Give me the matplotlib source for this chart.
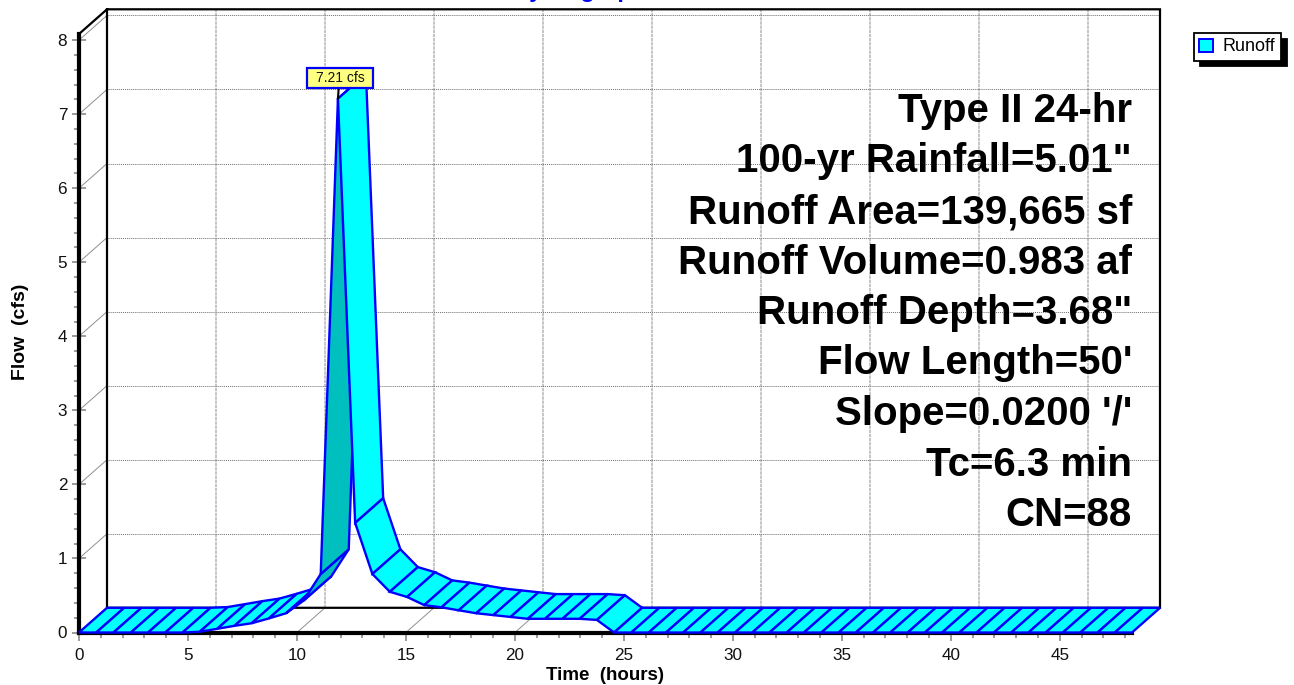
import matplotlib
matplotlib.use('Agg')
import matplotlib.pyplot as plt
from matplotlib.patches import Patch, Polygon, Rectangle
from matplotlib.ticker import MultipleLocator

plt.rcParams['font.family'] = ['Liberation Sans', 'DejaVu Sans']

#-------------
#  Data
#-------------
time_hours = [0.00, 0.79, 1.58, 2.38, 3.17, 3.96, 4.75, 5.54, 6.34, 7.13,
              7.92, 8.71, 9.50, 10.30, 11.09, 11.88, 12.67, 13.46, 14.26, 15.05,
              15.84, 16.63, 17.42, 18.22, 19.01, 19.80, 20.59, 21.38, 22.18, 22.97,
              23.76, 24.55, 25.34, 26.14, 26.93, 27.72, 28.51, 29.30, 30.10, 30.89,
              31.68, 32.47, 33.26, 34.06, 34.85, 35.64, 36.43, 37.22, 38.02, 38.81,
              39.60, 40.39, 41.18, 41.98, 42.77, 43.56, 44.35, 45.14, 45.94, 46.73,
              47.52, 48.31]
flow_cfs = [0.00, 0.00, 0.00, 0.00, 0.00, 0.00, 0.00, 0.01, 0.05, 0.09,
            0.125, 0.19, 0.26, 0.43, 0.79, 7.21, 1.48, 0.79, 0.55, 0.48,
            0.37, 0.34, 0.30, 0.26, 0.235, 0.21, 0.185, 0.185, 0.185, 0.185,
            0.17, 0.00, 0.00, 0.00, 0.00, 0.00, 0.00, 0.00, 0.00, 0.00,
            0.00, 0.00, 0.00, 0.00, 0.00, 0.00, 0.00, 0.00, 0.00, 0.00,
            0.00, 0.00, 0.00, 0.00, 0.00, 0.00, 0.00, 0.00, 0.00, 0.00,
            0.00, 0.00]
x_ticks = [0, 5, 10, 15, 20, 25, 30, 35, 40, 45]
y_ticks = [0, 1, 2, 3, 4, 5, 6, 7, 8]
notes = ['Type II 24-hr', '100-yr Rainfall=5.01"', 'Runoff Area=139,665 sf',
         'Runoff Volume=0.983 af', 'Runoff Depth=3.68"', "Flow Length=50'",
         "Slope=0.0200 '/'", 'Tc=6.3 min', 'CN=88']
peak_label = '7.21 cfs'

#-------------
#  Layout
#-------------
W, H = 1294, 685
X_MAX, Y_MAX = 48.31, 8.083
LEFT, RIGHT, TOP, BOTTOM = 79, 1132, 34, 632.5

# depth of the fake 3D box, in data units
DX = 28 * X_MAX / (RIGHT - LEFT)
DY = 24.7 * Y_MAX / (BOTTOM - TOP)

BLUE = '#0000FF'
CYAN = '#00FFFF'
DARK = '#00BFBF'

fig = plt.figure(figsize=(W / 100, H / 100), dpi=100)
ax = fig.add_axes([LEFT / W, 1 - BOTTOM / H, (RIGHT - LEFT) / W, (BOTTOM - TOP) / H])
ax.set_xlim(0, X_MAX)
ax.set_ylim(0, Y_MAX)
ax.patch.set_visible(False)

for side in ['top', 'right']:
    ax.spines[side].set_visible(False)
for side in ['left', 'bottom']:
    ax.spines[side].set_linewidth(3)
    ax.spines[side].set_zorder(2)

ax.set_xticks(x_ticks)
ax.set_yticks(y_ticks)
ax.xaxis.set_minor_locator(MultipleLocator(1))
ax.yaxis.set_minor_locator(MultipleLocator(0.2))
ax.tick_params(axis='both', which='major', labelsize=12.3, color='#808080', width=1.1,
               labelcolor='#111111')
ax.tick_params(axis='x', which='major', direction='out', length=5.5, pad=6)
ax.tick_params(axis='y', which='major', direction='inout', length=10, pad=3.5)
ax.tick_params(axis='both', which='minor', direction='out', length=3.5, color='#808080', width=1.1)

#----------
#  Box
#----------
grid_kw = dict(clip_on=False, zorder=1)
for x in x_ticks[1:]:
    ax.plot([x + DX, x + DX], [DY, Y_MAX + DY], color='#bbbbbb', lw=1.2,
            ls=(0, (2, 0.5)), **grid_kw)
    ax.plot([x, x + DX], [0, DY], color='#909090', lw=0.7, **grid_kw)
for y in y_ticks[1:]:
    ax.plot([DX, X_MAX + DX], [y + DY, y + DY], color='#707070', lw=0.7,
            ls=(0, (1, 1)), **grid_kw)
    ax.plot([0, DX], [y, y + DY], color='#909090', lw=0.7, **grid_kw)

# back wall frame
ax.plot([0, DX, X_MAX + DX, X_MAX + DX, DX, DX],
        [Y_MAX, Y_MAX + DY, Y_MAX + DY, DY, DY, Y_MAX + DY],
        color='black', lw=1.6, clip_on=False, zorder=1.5, solid_joinstyle='miter')

#----------
#  Ribbon
#----------
for i in range(len(time_hours) - 1):
    t0, t1 = time_hours[i], time_hours[i + 1]
    q0, q1 = flow_cfs[i], flow_cfs[i + 1]
    # rising faces steeper than the depth direction turn away from the light
    steep = (q1 - q0) / (t1 - t0) > DY / DX
    quad = [(t0, q0), (t1, q1), (t1 + DX, q1 + DY), (t0 + DX, q0 + DY)]
    ax.add_patch(Polygon(quad, closed=True, facecolor=DARK if steep else CYAN,
                         edgecolor=BLUE, lw=1.7, clip_on=False, zorder=3,
                         joinstyle='miter'))

# leader from the peak up to the label box
ax.annotate('', xy=(time_hours[15], flow_cfs[15]), xytext=(339, H - 84),
            textcoords='figure pixels', zorder=4,
            arrowprops=dict(arrowstyle='-', color='black', lw=1.5, shrinkA=0, shrinkB=0))
fig.add_artist(Rectangle((307 / W, 1 - 88 / H), 66 / W, 20 / H, transform=fig.transFigure,
                         facecolor='#FFFF80', edgecolor=BLUE, lw=1.6, zorder=5))
fig.text(340 / W, 1 - 78.5 / H, peak_label, ha='center', va='center', fontsize=10,
         color='#111111', zorder=6)

#----------
#  Text
#----------
for i, note in enumerate(notes):
    fig.text(1132 / W, 1 - (122 + i * 50.5) / H, note, ha='right', va='baseline',
             fontsize=29, fontweight='bold', color='black', zorder=7)

fig.text(580 / W, 1 + 3 / H, 'Hydrograph', ha='center', va='baseline', fontsize=17,
         fontweight='bold', color=BLUE)
fig.text(605 / W, 1 - 675 / H, 'Time  (hours)', ha='center', va='center', fontsize=13.5,
         fontweight='bold', color='black')
fig.text(21 / W, 1 - 332 / H, 'Flow  (cfs)', ha='center', va='center', rotation=90,
         fontsize=14, fontweight='bold', color='black')

handle = Patch(facecolor=CYAN, edgecolor=BLUE, lw=1.4, label='Runoff')
leg = fig.legend(handles=[handle], loc='upper left', bbox_to_anchor=(1194 / W, 1 - 33 / H),
                 borderaxespad=0, fontsize=13, fancybox=False, framealpha=1,
                 edgecolor='black', handlelength=0.75, handleheight=0.75, handletextpad=0.55,
                 borderpad=0.3, shadow={'color': 'black', 'alpha': 1, 'ox': 4.5, 'oy': -4})
leg.get_frame().set_linewidth(1.3)

fig.savefig('out.png', dpi=100)
